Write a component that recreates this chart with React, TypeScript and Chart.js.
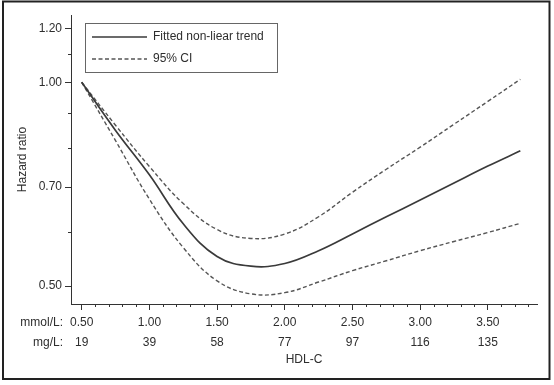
import React, { useEffect, useRef } from "react";
import { Chart, registerables } from "chart.js";

Chart.register(...registerables);

// ---- data ----
const hdlMmol = [0.5, 0.75, 1.0, 1.25, 1.5, 1.75, 2.0, 2.25, 2.5, 2.75, 3.0, 3.25, 3.5, 3.74];
const trendHR = [1.0, 0.849, 0.73, 0.618, 0.553, 0.535, 0.54, 0.564, 0.597, 0.633, 0.67, 0.71, 0.752, 0.792];
const upperCI = [1.0, 0.864, 0.751, 0.662, 0.606, 0.588, 0.597, 0.633, 0.688, 0.744, 0.802, 0.867, 0.937, 1.01];
const lowerCI = [1.0, 0.82, 0.672, 0.57, 0.509, 0.487, 0.489, 0.507, 0.527, 0.545, 0.564, 0.582, 0.6, 0.619];

const xMajorTicks = [0.5, 1.0, 1.5, 2.0, 2.5, 3.0, 3.5];
const mgLabels = ["19", "39", "58", "77", "97", "116", "135"];
const xAllTicks = [
  0.5, 0.6, 0.7, 0.8, 0.9, 1.0, 1.1, 1.2, 1.3, 1.4, 1.5, 1.6, 1.7, 1.8, 1.9, 2.0, 2.1,
  2.2, 2.3, 2.4, 2.5, 2.6, 2.7, 2.8, 2.9, 3.0, 3.1, 3.2, 3.3, 3.4, 3.5, 3.6, 3.7, 3.8,
];
const yMajorTicks = [0.5, 0.7, 1.0, 1.2];
const yAllTicks = [0.5, 0.6, 0.7, 0.8, 0.9, 1.0, 1.1, 1.2];

const FONT = "'Liberation Sans', Arial, Helvetica, sans-serif";
const INK = "#2e2e2e";
const AXIS = "#333333";

const isIn = (arr: number[], v: number) => arr.some((a) => Math.abs(a - v) < 1e-6);

const decorPlugin = {
  id: "decor",
  afterDraw(chart: any) {
    const ctx = chart.ctx;
    const xs = chart.scales.x;
    const ys = chart.scales.y;
    ctx.save();
    // minor ticks
    ctx.strokeStyle = AXIS;
    ctx.lineWidth = 1;
    ctx.beginPath();
    xAllTicks.forEach((v) => {
      if (isIn(xMajorTicks, v)) return;
      const px = Math.round(xs.getPixelForValue(v)) + 0.5;
      ctx.moveTo(px, xs.top);
      ctx.lineTo(px, xs.top + 3);
    });
    yAllTicks.forEach((v) => {
      if (isIn(yMajorTicks, v)) return;
      const py = Math.round(ys.getPixelForValue(v)) + 0.5;
      ctx.moveTo(ys.right, py);
      ctx.lineTo(ys.right - 3, py);
    });
    ctx.stroke();

    // row captions for the two x tick rows
    ctx.fillStyle = INK;
    ctx.font = `12px ${FONT}`;
    ctx.textAlign = "right";
    ctx.textBaseline = "middle";
    const lh = 12 * 1.7;
    const row0 = xs.top + 6 + 2 + lh / 2;
    ctx.fillText("mmol/L:", 63, row0, 44);
    ctx.fillText("mg/L:", 63, row0 + lh);

    // legend box
    const lx = 85.5, ly = 23.5, lw = 192, lhh = 49;
    ctx.strokeStyle = "#666";
    ctx.lineWidth = 1;
    ctx.strokeRect(lx, ly, lw, lhh);
    ctx.strokeStyle = "#3a3a3a";
    ctx.lineWidth = 1.6;
    ctx.beginPath();
    ctx.moveTo(92, 37);
    ctx.lineTo(147, 37);
    ctx.stroke();
    ctx.strokeStyle = "#555";
    ctx.lineWidth = 1.4;
    ctx.setLineDash([4, 2.5]);
    ctx.beginPath();
    ctx.moveTo(92, 59);
    ctx.lineTo(147, 59);
    ctx.stroke();
    ctx.setLineDash([]);
    ctx.textAlign = "left";
    ctx.fillStyle = INK;
    ctx.fillText("Fitted non-liear trend", 153, 37);
    ctx.fillText("95% CI", 153, 59);

    // outer frame
    ctx.strokeStyle = "#222";
    ctx.lineWidth = 2;
    ctx.strokeRect(3, 1.5, 546.5, 377.5);
    ctx.restore();
  },
};

export default function App() {
  const ref = useRef<HTMLCanvasElement | null>(null);

  useEffect(() => {
    if (!ref.current) return;
    Chart.defaults.font.family = FONT;
    Chart.defaults.color = INK;
    const mk = (ys: number[]) => hdlMmol.map((x, i) => ({ x, y: ys[i] }));
    const chart = new Chart(ref.current, {
      type: "line",
      data: {
        datasets: [
          {
            label: "Fitted non-liear trend",
            data: mk(trendHR),
            borderColor: "#3a3a3a",
            borderWidth: 1.7,
            pointRadius: 0,
            tension: 0.4,
            fill: false,
          },
          {
            label: "95% CI upper",
            data: mk(upperCI),
            borderColor: "#555",
            borderWidth: 1.4,
            borderDash: [4, 2.5],
            pointRadius: 0,
            tension: 0.4,
            fill: false,
          },
          {
            label: "95% CI lower",
            data: mk(lowerCI),
            borderColor: "#555",
            borderWidth: 1.4,
            borderDash: [4, 2.5],
            pointRadius: 0,
            tension: 0.4,
            fill: false,
          },
        ],
      },
      options: {
        animation: false,
        responsive: false,
        events: [],
        layout: { padding: { left: 0, top: 15, right: 17, bottom: 0 } },
        plugins: { legend: { display: false }, tooltip: { enabled: false } },
        scales: {
          x: {
            type: "linear",
            min: 0.421,
            max: 3.863,
            afterBuildTicks: (s: any) => {
              s.ticks = xAllTicks.map((v) => ({ value: v }));
            },
            afterFit: (s: any) => {
              s.height = 81;
            },
            grid: {
              drawOnChartArea: false,
              drawTicks: true,
              tickLength: 6,
              tickColor: (c: any) => (c.tick && isIn(xMajorTicks, c.tick.value) ? AXIS : "rgba(0,0,0,0)"),
            },
            border: { display: true, color: AXIS, width: 1 },
            ticks: {
              autoSkip: false,
              maxRotation: 0,
              minRotation: 0,
              padding: 2,
              color: INK,
              font: { size: 12, lineHeight: 1.7 },
              callback: (v: any) => {
                const i = xMajorTicks.findIndex((m) => Math.abs(m - Number(v)) < 1e-6);
                return i >= 0 ? [xMajorTicks[i].toFixed(2), mgLabels[i]] : "";
              },
            },
            title: {
              display: true,
              text: "HDL-C",
              color: INK,
              font: { size: 12 },
              padding: { top: 0, bottom: 18 },
            },
          },
          y: {
            type: "logarithmic",
            min: 0.4705,
            max: 1.257,
            bounds: "data",
            afterBuildTicks: (s: any) => {
              s.ticks = yAllTicks.map((v) => ({ value: v }));
            },
            afterFit: (s: any) => {
              s.width = 71;
            },
            grid: {
              drawOnChartArea: false,
              drawTicks: true,
              tickLength: 6,
              tickColor: (c: any) => (c.tick && isIn(yMajorTicks, c.tick.value) ? AXIS : "rgba(0,0,0,0)"),
            },
            border: { display: true, color: AXIS, width: 1 },
            ticks: {
              autoSkip: false,
              padding: 3,
              color: INK,
              font: { size: 12 },
              callback: (v: any) => (isIn(yMajorTicks, Number(v)) ? Number(v).toFixed(2) : ""),
            },
            title: {
              display: true,
              text: "Hazard ratio",
              color: INK,
              font: { size: 12 },
              padding: { top: 15, bottom: 0 },
            },
          },
        },
      },
      plugins: [decorPlugin],
    } as any);
    return () => chart.destroy();
  }, []);

  return (
    <div style={{ position: "absolute", left: 0, top: 0, width: 554, height: 385, background: "#fff" }}>
      <canvas ref={ref} width={554} height={385} style={{ display: "block", width: 554, height: 385 }} />
    </div>
  );
}
